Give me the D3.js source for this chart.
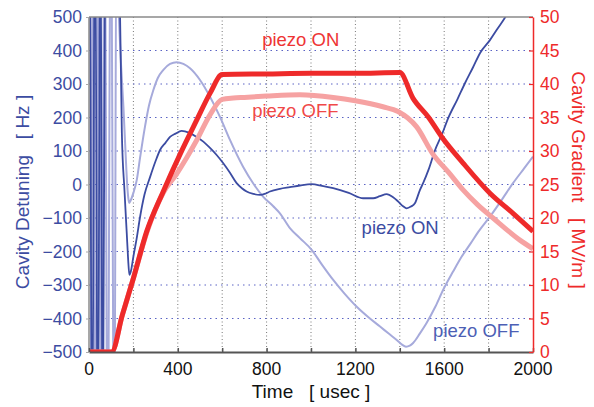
<!DOCTYPE html>
<html>
<head>
<meta charset="utf-8">
<script src="https://cdn.jsdelivr.net/npm/d3@7"></script>
<style>
	body { margin: 0; background: #fff; }
	text { font-family: "Liberation Sans", Arial, Helvetica, sans-serif; }
</style>
</head>
<body>
<script>

	// time axis [usec]
	var timeTicks = [0, 400, 800, 1200, 1600, 2000];
	var timeGrid = [200, 400, 600, 800, 1000, 1200, 1400, 1600, 1800];
	var detTicks = [-500, -400, -300, -200, -100, 0, 100, 200, 300, 400, 500];
	var gradTicks = [0, 5, 10, 15, 20, 25, 30, 35, 40, 45, 50];

	// cavity detuning [Hz], piezo ON (dark blue)
	var detOnT = [0, 2, 14, 27, 40, 51, 62, 74, 110, 136, 140, 148, 160, 170, 176, 182, 190, 200, 215, 230, 250, 275, 300, 320, 345, 365, 390, 417, 450, 485, 515, 545, 575, 604, 635, 665, 690, 710, 740, 770, 795, 815, 860, 905, 950, 1003, 1050, 1100, 1170, 1235, 1280, 1310, 1341, 1370, 1393, 1415, 1431, 1450, 1468, 1491, 1505, 1530, 1559, 1590, 1618, 1660, 1694, 1730, 1761, 1806, 1840, 1880, 1900];
	var detOnV = [900, 900, -900, 900, -900, 900, -900, 900, 1000, 560, 500, 154, -20, -145, -220, -270, -255, -215, -160, -97, -30, 22, 70, 103, 125, 142, 152, 160, 155, 142, 128, 109, 88, 64, 35, 4, -12, -21, -28, -31, -27, -21, -13, -8, -3, 1, -4, -11, -25, -41, -41, -35, -29, -38, -51, -65, -71, -66, -56, -16, 4, 45, 103, 150, 198, 255, 303, 350, 392, 431, 465, 505, 530];

	// cavity detuning [Hz], piezo OFF (light blue)
	var detOffT = [0, 6, 18, 30, 44, 57, 70, 84, 98, 114, 124, 132, 136, 145, 155, 165, 172, 177, 181, 188, 200, 215, 230, 252, 270, 290, 310, 335, 365, 395, 425, 455, 500, 545, 590, 635, 694, 740, 784, 830, 860, 905, 950, 1003, 1050, 1100, 1150, 1206, 1260, 1311, 1350, 1386, 1410, 1428, 1445, 1460, 1490, 1520, 1560, 1595, 1640, 1679, 1720, 1755, 1806, 1860, 1910, 1960, 2000];
	var detOffV = [-900, -900, 900, -900, 900, -900, 900, -900, 900, -900, 900, 560, 480, 350, 232, 90, 0, -40, -55, -47, -25, 13, 80, 172, 235, 282, 318, 342, 360, 365, 360, 347, 312, 262, 202, 133, 53, 3, -36, -65, -86, -130, -160, -195, -240, -285, -325, -365, -397, -424, -445, -464, -478, -484, -481, -473, -445, -414, -365, -315, -260, -215, -175, -140, -96, -45, 4, 48, 83];

	// cavity gradient [MV/m]
	var gradOnT = [0, 102, 150, 200, 260, 335, 410, 485, 545, 600, 800, 1000, 1200, 1400, 1459, 1530, 1589, 1685, 1806, 1910, 2000];
	var gradOnV = [0, 0, 5.5, 11, 18, 24, 29.5, 34.6, 38.6, 41.4, 41.5, 41.6, 41.6, 41.7, 37.9, 35, 32.1, 28.2, 23.7, 20.7, 18];
	var gradOffT = [0, 102, 150, 200, 260, 335, 395, 440, 485, 545, 600, 650, 700, 800, 950, 1100, 1200, 1324, 1392, 1476, 1550, 1620, 1685, 1750, 1820, 1941, 2000];
	var gradOffV = [0, 0, 5.5, 11, 17.8, 23.8, 26.6, 29, 31.6, 35.4, 37.7, 37.9, 38, 38.2, 38.4, 38, 37.5, 36.6, 35.9, 33.6, 29.5, 26.8, 24.2, 22, 20, 16.7, 15.4];

	var width = 594;
	var height = 407;
	var margin = {top: 17, right: 61, bottom: 55, left: 89};
	var plotW = width - margin.left - margin.right;
	var plotH = height - margin.top - margin.bottom;

	var blue = '#3c4ca2';
	var lightBlue = '#a6aadb';
	var red = '#ee2a2a';
	var pink = '#f6a2a2';

	var svg = d3.select("body")
		.append("svg")
		.attr("width", width)
		.attr("height", height);

	var g = svg.append("g")
		.attr("transform", "translate(" + margin.left + "," + margin.top + ")");

	var x = d3.scaleLinear().domain([0, 2000]).range([0, plotW]);
	var yDet = d3.scaleLinear().domain([-500, 500]).range([plotH, 0]);
	var yGrad = d3.scaleLinear().domain([0, 50]).range([plotH, 0]);

	svg.append("defs").append("clipPath")
		.attr("id", "clip")
		.append("rect")
		.attr("width", plotW)
		.attr("height", plotH);

	// grid lines
	g.selectAll(".vgrid")
		.data(timeGrid)
		.enter()
		.append("line")
		.attr("x1", function(d) { return x(d); })
		.attr("x2", function(d) { return x(d); })
		.attr("y1", 0)
		.attr("y2", plotH)
		.style("stroke", "#777")
		.style("stroke-width", 1)
		.style("stroke-dasharray", "1,2.5");

	g.selectAll(".hgrid")
		.data(detTicks.slice(1, -1))
		.enter()
		.append("line")
		.attr("x1", 0)
		.attr("x2", plotW)
		.attr("y1", function(d) { return yDet(d); })
		.attr("y2", function(d) { return yDet(d); })
		.style("stroke", "#5a63c4")
		.style("stroke-width", 1)
		.style("stroke-dasharray", "1.5,4");

	// curves
	var plot = g.append("g").attr("clip-path", "url(#clip)");

	function drawLine(ts, vs, yScale, color, w) {
		var pts = ts.map(function(t, i) { return [t, vs[i]]; });
		var line = d3.line()
			.x(function(d) { return x(d[0]); })
			.y(function(d) { return yScale(d[1]); })
			.curve(d3.curveMonotoneX);
		plot.append("path")
			.datum(pts)
			.attr("d", line)
			.style("fill", "none")
			.style("stroke", color)
			.style("stroke-width", w)
			.style("stroke-linejoin", "round");
	}

	drawLine(detOffT, detOffV, yDet, lightBlue, 2);
	drawLine(detOnT, detOnV, yDet, blue, 1.8);
	drawLine(gradOffT, gradOffV, yGrad, pink, 5);
	drawLine(gradOnT, gradOnV, yGrad, red, 5);

	// frame
	g.append("line")
		.attr("x1", 0).attr("x2", plotW).attr("y1", 0).attr("y2", 0)
		.style("stroke", "#8a8a8a").style("stroke-width", 1.5);
	g.append("line")
		.attr("x1", 0).attr("x2", 0).attr("y1", 0).attr("y2", plotH)
		.style("stroke", "#8a8a8a").style("stroke-width", 1.5);

	// bottom axis
	var xAxis = d3.axisBottom(x)
		.tickValues(timeGrid.concat([0, 2000]))
		.tickSizeInner(-4)
		.tickSizeOuter(0)
		.tickFormat("");
	g.append("g")
		.attr("transform", "translate(0," + plotH + ")")
		.call(xAxis)
		.call(function(a) {
			a.select(".domain").style("stroke", "#555").style("stroke-width", 2);
			a.selectAll(".tick line").style("stroke", "#555").style("stroke-width", 1.5);
		});

	g.selectAll(".xlab")
		.data(timeTicks)
		.enter()
		.append("text")
		.attr("x", function(d) { return x(d); })
		.attr("y", plotH + 23)
		.attr("text-anchor", "middle")
		.style("font-size", "17.5px")
		.style("fill", "#111")
		.text(function(d) { return d; });

	// left axis
	var yAxisL = d3.axisLeft(yDet)
		.tickValues(detTicks)
		.tickSizeInner(3)
		.tickSizeOuter(0)
		.tickPadding(4);
	g.append("g")
		.call(yAxisL)
		.call(function(a) {
			a.select(".domain").remove();
			a.selectAll(".tick line").style("stroke", "#aaa");
			a.selectAll(".tick text")
				.style("font-size", "17.5px")
				.style("font-family", "Liberation Sans, Arial, sans-serif")
				.style("fill", blue);
		});

	// right axis
	var yAxisR = d3.axisRight(yGrad)
		.tickValues(gradTicks)
		.tickSizeInner(-4)
		.tickSizeOuter(0)
		.tickPadding(7);
	g.append("g")
		.attr("transform", "translate(" + plotW + ",0)")
		.call(yAxisR)
		.call(function(a) {
			a.select(".domain").style("stroke", red).style("stroke-width", 1.5);
			a.selectAll(".tick line").style("stroke", red).style("stroke-width", 1.2);
			a.selectAll(".tick text")
				.style("font-size", "17.5px")
				.style("font-family", "Liberation Sans, Arial, sans-serif")
				.style("fill", red);
		});

	// axis titles
	svg.append("text")
		.attr("transform", "translate(29," + (margin.top + 175) + ") rotate(-90)")
		.attr("text-anchor", "middle")
		.style("font-size", "19px")
		.style("fill", blue)
		.style("white-space", "pre")
		.text("Cavity Detuning   [ Hz ]");

	svg.append("text")
		.attr("transform", "translate(572," + (margin.top + 163) + ") rotate(90)")
		.attr("text-anchor", "middle")
		.style("font-size", "19px")
		.style("fill", red)
		.style("white-space", "pre")
		.text("Cavity Gradient   [ MV/m ]");

	svg.append("text")
		.attr("x", margin.left + plotW / 2)
		.attr("y", 398)
		.attr("text-anchor", "middle")
		.style("font-size", "19px")
		.style("fill", "#111")
		.style("white-space", "pre")
		.text("Time   [ usec ]");

	// curve labels
	var labels = [
		{t: 780, v: 45.7, s: "piezo ON", c: "#ee3434", axis: "grad"},
		{t: 735, v: 35.1, s: "piezo OFF", c: "#f04848", axis: "grad"},
		{t: 1228, v: -147, s: "piezo ON", c: blue, axis: "det"},
		{t: 1550, v: -455, s: "piezo OFF", c: "#4d5fb5", axis: "det"}
	];
	g.selectAll(".clab")
		.data(labels)
		.enter()
		.append("text")
		.attr("x", function(d) { return x(d.t); })
		.attr("y", function(d) { return d.axis == "grad" ? yGrad(d.v) : yDet(d.v); })
		.style("font-size", "18.5px")
		.style("fill", function(d) { return d.c; })
		.text(function(d) { return d.s; });

</script>
</body>
</html>
